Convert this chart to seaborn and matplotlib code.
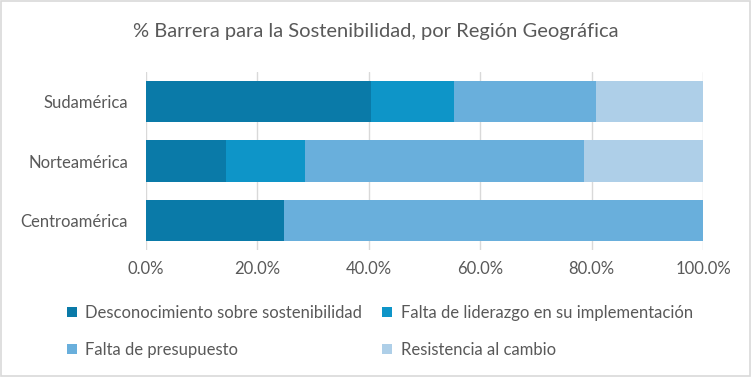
import seaborn as sns
import matplotlib.pyplot as plt
import pandas as pd
import numpy as np
from matplotlib.patches import Patch

regiones = ['Sudamérica', 'Norteamérica', 'Centroamérica']
barreras = ['Desconocimiento sobre sostenibilidad',
            'Falta de liderazgo en su implementación',
            'Falta de presupuesto',
            'Resistencia al cambio']
desconocimiento = [40.4, 14.3, 24.8]
liderazgo = [14.9, 14.3, 0.0]
presupuesto = [25.5, 50.0, 75.2]
resistencia = [19.2, 21.4, 0.0]
colores = ['#0A7AA8', '#0E95C8', '#69AFDC', '#AECFE8']

sns.set_theme(style='white')
plt.rcParams['font.family'] = ['Lato', 'DejaVu Sans']
gris = '#595959'

df = pd.DataFrame({'region': regiones,
                   barreras[0]: desconocimiento,
                   barreras[1]: liderazgo,
                   barreras[2]: presupuesto,
                   barreras[3]: resistencia})
acum = df[barreras].cumsum(axis=1)

fig = plt.figure(figsize=(7.52, 3.77), dpi=100)
ax = fig.add_axes([146/752, 1-250/377, (703-146)/752, (250-72)/377])

# apilado: dibujar los acumulados de mayor a menor
for serie, color in reversed(list(zip(barreras, colores))):
    sns.barplot(x=acum[serie], y=df['region'], color=color, orient='h',
                width=0.7, saturation=1, ax=ax, linewidth=0)

ax.set_xlim(0, 100)
ax.set_xticks(np.arange(0, 101, 20))
ax.set_xticklabels([f'{v:.1f}%' for v in np.arange(0, 101, 20)])
ax.xaxis.grid(True, color='#D9D9D9', linewidth=1)
ax.set_axisbelow(True)
for s in ax.spines.values():
    s.set_visible(False)
ax.set_xlabel('')
ax.set_ylabel('')
ax.tick_params(axis='both', length=0, labelsize=12, labelcolor=gris)
ax.tick_params(axis='y', pad=13)
ax.tick_params(axis='x', pad=8)

fig.suptitle('% Barrera para la Sostenibilidad, por Región Geográfica',
             x=0.5, y=1-31/377, va='center', fontsize=14.5, color=gris)

# leyenda por filas: reordenar para que matplotlib (que llena por columnas) quede igual
orden = [0, 2, 1, 3]
handles = [Patch(facecolor=colores[i], edgecolor='none') for i in orden]
labels = [barreras[i] for i in orden]
fig.legend(handles, labels, loc='upper left', bbox_to_anchor=(52/752, 1-290/377),
           ncol=2, frameon=False, fontsize=12, labelcolor=gris,
           handlelength=0.6, handleheight=0.6, handletextpad=0.5,
           columnspacing=1.2, labelspacing=1.25)

fig.patches.append(plt.Rectangle((0.001, 0.002), 0.997, 0.996, transform=fig.transFigure,
                                 fill=False, edgecolor='#D9D9D9', linewidth=1.2))
fig.savefig('out.png', dpi=100)
